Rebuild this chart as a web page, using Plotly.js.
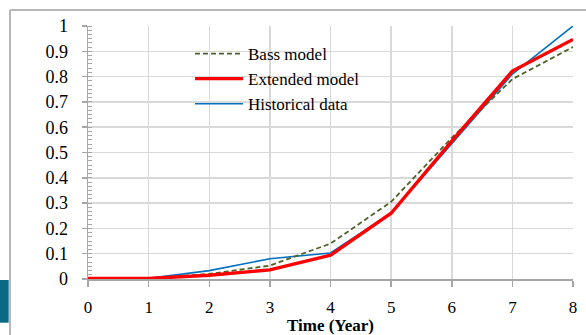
<!DOCTYPE html>
<html>
<head>
<meta charset="utf-8">
<script src="https://cdn.plot.ly/plotly-3.0.1.min.js"></script>
<style>
html,body{margin:0;padding:0;background:#fff;}
#chart{width:586px;height:335px;}
</style>
</head>
<body>
<div id="chart"></div>
<script>
const years = [0, 1, 2, 3, 4, 5, 6, 7, 8];
const bassModel = [0, 0.003, 0.02, 0.053, 0.14, 0.305, 0.558, 0.79, 0.917];
const extendedModel = [0.002, 0.002, 0.015, 0.036, 0.094, 0.26, 0.545, 0.822, 0.947];
const historicalData = [0, 0.003, 0.033, 0.08, 0.103, 0.26, 0.535, 0.81, 1.0];
const yTickVals = [0, 0.1, 0.2, 0.3, 0.4, 0.5, 0.6, 0.7, 0.8, 0.9, 1];
const yTickText = ['0', '0.1', '0.2', '0.3', '0.4', '0.5', '0.6', '0.7', '0.8', '0.9', '1'];

const serif = 'Liberation Serif, Times New Roman, serif';

const traces = [
  {x: years, y: historicalData, name: 'Historical data', type: 'scatter', mode: 'lines',
   line: {color: '#0070c0', width: 1.6}, legendrank: 3, cliponaxis: false},
  {x: years, y: bassModel, name: 'Bass model', type: 'scatter', mode: 'lines',
   line: {color: '#4f6228', width: 1.8, dash: '5px,3px'}, legendrank: 1, cliponaxis: false},
  {x: years, y: extendedModel, name: 'Extended model', type: 'scatter', mode: 'lines',
   line: {color: '#ff0000', width: 3.4}, legendrank: 2, cliponaxis: false}
];

const W = 485, H = 253, L = 88, T = 26;
function px(p){ return (p - L) / W; }
function py(p){ return (T + H - p) / H; }

const layout = {
  width: 586, height: 335,
  margin: {l: 88, r: 13, t: 26, b: 56},
  paper_bgcolor: '#ffffff', plot_bgcolor: '#ffffff',
  font: {family: serif, size: 17, color: '#000000'},
  showlegend: true,
  hovermode: false,
  legend: {
    x: px(190), y: py(36), xanchor: 'left', yanchor: 'top',
    bgcolor: 'rgba(255,255,255,0)', borderwidth: 0,
    font: {family: serif, size: 17, color: '#000000'},
    itemwidth: 48, tracegroupgap: 0
  },
  xaxis: {
    range: [0, 8], dtick: 1, tick0: 0,
    showgrid: true, gridcolor: '#d9d9d9', gridwidth: 1.5,
    showline: true, linecolor: '#a6a6a6', linewidth: 1.5,
    ticks: 'outside', ticklen: 6, tickcolor: '#a6a6a6', tickwidth: 1.5,
    ticklabelstandoff: 6,
    zeroline: false,
    tickfont: {family: serif, size: 17, color: '#000000'},
    title: {text: '<b>Time (Year)</b>', font: {family: serif, size: 17, color: '#000000'}, standoff: 6}
  },
  yaxis: {
    range: [0, 1], tickvals: yTickVals, ticktext: yTickText,
    showgrid: true, gridcolor: '#d9d9d9', gridwidth: 1.5,
    showline: true, linecolor: '#a6a6a6', linewidth: 1.5,
    ticks: 'outside', ticklen: 5, tickcolor: '#a6a6a6', tickwidth: 1.5,
    ticklabelstandoff: 10,
    zeroline: false,
    tickfont: {family: serif, size: 18, color: '#000000'},
    minor: {ticks: 'inside', ticklen: 4, tickcolor: '#a6a6a6', tickwidth: 1, dtick: 0.1/6, tick0: 0, showgrid: false}
  },
  shapes: [
    {type: 'rect', xref: 'paper', yref: 'paper', x0: px(181), x1: px(382), y0: py(34), y1: py(108),
     fillcolor: '#ffffff', line: {width: 0}, layer: 'between'},
    {type: 'rect', xref: 'paper', yref: 'paper', x0: px(0), x1: px(8.7), y0: py(280), y1: py(322.7),
     fillcolor: '#0a6987', line: {width: 0}, layer: 'above'},
    {type: 'line', xref: 'paper', yref: 'paper', x0: px(10), x1: px(10), y0: py(10), y1: py(340),
     line: {color: '#b8b8b8', width: 2}, layer: 'above'},
    {type: 'line', xref: 'paper', yref: 'paper', x0: px(10), x1: px(590), y0: py(10), y1: py(10),
     line: {color: '#b8b8b8', width: 2}, layer: 'above'}
  ]
};

Plotly.newPlot('chart', traces, layout, {displayModeBar: false, staticPlot: true});
</script>
</body>
</html>
